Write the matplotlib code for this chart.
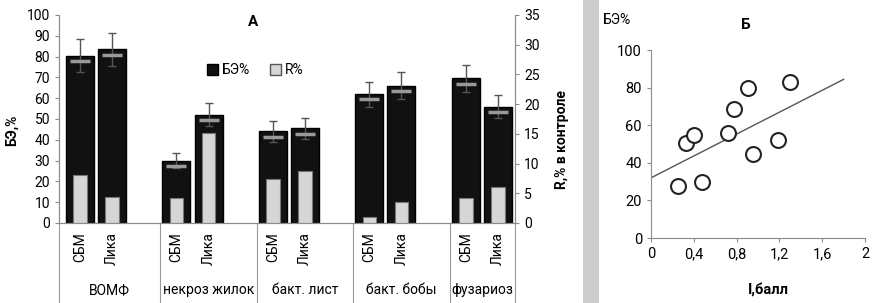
import numpy as np
import matplotlib
matplotlib.use('Agg')
import matplotlib.pyplot as plt
import matplotlib.transforms as mtransforms
from matplotlib.patches import Rectangle, Patch

plt.rcParams['font.family'] = ['Roboto', 'DejaVu Sans']

# панель А: биологическая эффективность и R% по болезням
groups = ['ВОМФ', 'некроз жилок', 'бакт. лист', 'бакт. бобы', 'фузариоз']
varieties = ['СБМ', 'Лика']
be = [80.5, 83.5, 30, 52, 44, 45.5, 62, 66, 69.5, 56]
be_err = [8, 8, 3.5, 5.5, 5, 5, 6, 6.5, 6.5, 5.5]
r_ctrl = [8.1, 4.4, 4.2, 15.2, 7.4, 8.7, 1.0, 3.5, 4.2, 6.1]

# панель Б: БЭ% от интенсивности, балл
intensity = [0.255, 0.327, 0.40, 0.474, 0.716, 0.779, 0.904, 0.957, 1.19, 1.30]
be_scatter = [27.8, 50.4, 54.8, 29.6, 55.7, 68.6, 80, 44.7, 52.1, 83.1]
# линия тренда как на рисунке: наклон, свободный член, конец по x
trend_slope = 29.1
trend_icpt = 32.0
trend_xmax = 1.8

W, H = 888, 303
fig = plt.figure(figsize=(W / 100, H / 100), dpi=100)


def fx(px):
    return px / W


def fy(py):
    return 1 - py / H


spine_c = '#8c8c8c'

# ---- панель А ----
ax = fig.add_axes([fx(59), fy(223), fx(515) - fx(59), fy(15) - fy(223)])
pos = [3 * g + j for g in range(len(groups)) for j in range(len(varieties))]
ax.set_xlim(-0.65, 13.53)
ax.set_ylim(0, 100)
ax.bar(pos, be, width=0.87, color='#111111', edgecolor='#000000', zorder=2)
ax.errorbar(pos, be, yerr=be_err, fmt='none', ecolor='#555555', elinewidth=1,
            capsize=3, zorder=3)
# светлый блик у верха столбца
ax.scatter(pos, np.array(be) - 2.5, marker='_', s=200, linewidths=2.5,
           color='#9a9a9a', zorder=3)
ax.set_xticks([])
ax.set_yticks(range(0, 101, 10))
ax.tick_params(axis='y', length=3, color=spine_c, labelsize=10)
ax.spines['top'].set_visible(False)
for s in ['left', 'right', 'bottom']:
    ax.spines[s].set_color(spine_c)

ax2 = ax.twinx()
ax2.set_ylim(0, 35)
ax2.bar(pos, r_ctrl, width=0.42, color='#d6d6d6', edgecolor='#777777',
        linewidth=0.8, zorder=2)
ax2.set_yticks(range(0, 36, 5))
ax2.tick_params(axis='y', length=3, color=spine_c, labelsize=10)
ax2.spines['top'].set_visible(False)
for s in ['left', 'right', 'bottom']:
    ax2.spines[s].set_color(spine_c)

trans = mtransforms.blended_transform_factory(ax.transData, ax.transAxes)
for i, p in enumerate(pos):
    ax.text(p, -0.045, varieties[i % 2], rotation=90, ha='center', va='top',
            transform=trans, fontsize=10)
bounds = [-0.65, 2.5, 5.5, 8.5, 11.5, 13.53]
for b in bounds:
    ax.plot([b, b], [0, -0.385], transform=trans, color='#9a9a9a', lw=0.8,
            clip_on=False)
for i, g in enumerate(groups):
    ax.text((bounds[i] + bounds[i + 1]) / 2, -0.322, g, ha='center',
            va='center', transform=trans, fontsize=10)

handles = [Patch(fc='#111111', ec='#000000'), Patch(fc='#d6d6d6', ec='#555555')]
ax2.legend(handles, ['БЭ%', 'R%'], loc='center', bbox_to_anchor=(0.43, 0.735),
           ncol=2, frameon=False, handlelength=0.8, handleheight=0.8,
           handletextpad=0.3, columnspacing=1.4, fontsize=10)

fig.text(fx(253), fy(22), 'А', fontsize=11, fontweight='bold', ha='center',
         va='center')
fig.text(fx(12), fy(130), 'БЭ,%', rotation=90, fontsize=10, fontweight='bold',
         ha='center', va='center')
fig.text(fx(562), fy(140), 'R,% в контроле', rotation=90, fontsize=10,
         fontweight='bold', ha='center', va='center')

# серая разделительная полоса
fig.add_artist(Rectangle((fx(583), 0), fx(599) - fx(583), 1,
                         transform=fig.transFigure, color='#cccccc', lw=0))

# ---- панель Б ----
bx = fig.add_axes([fx(651), fy(238), fx(865) - fx(651), fy(50) - fy(238)])
bx.scatter(intensity, be_scatter, s=115, facecolors='white',
           edgecolors='#222222', linewidths=1.5, zorder=3)
xs = np.array([0, trend_xmax])
bx.plot(xs, trend_slope * xs + trend_icpt, color='#555555', lw=1, zorder=2)
bx.set_xlim(0, 2)
bx.set_ylim(0, 100)
bx.set_xticks([0, 0.4, 0.8, 1.2, 1.6, 2])
bx.set_xticklabels(['0', '0,4', '0,8', '1,2', '1,6', '2'])
bx.set_yticks(range(0, 101, 20))
bx.tick_params(length=3, color=spine_c, labelsize=10.5)
for s in ['top', 'right']:
    bx.spines[s].set_visible(False)
for s in ['left', 'bottom']:
    bx.spines[s].set_color(spine_c)

fig.text(fx(617), fy(20), 'БЭ%', fontsize=10, ha='center', va='center')
fig.text(fx(746), fy(25), 'Б', fontsize=11, fontweight='bold', ha='center',
         va='center')
fig.text(fx(768), fy(290), 'I,балл', fontsize=10.5, fontweight='bold',
         ha='center', va='center')

fig.savefig('out.png', dpi=100)
